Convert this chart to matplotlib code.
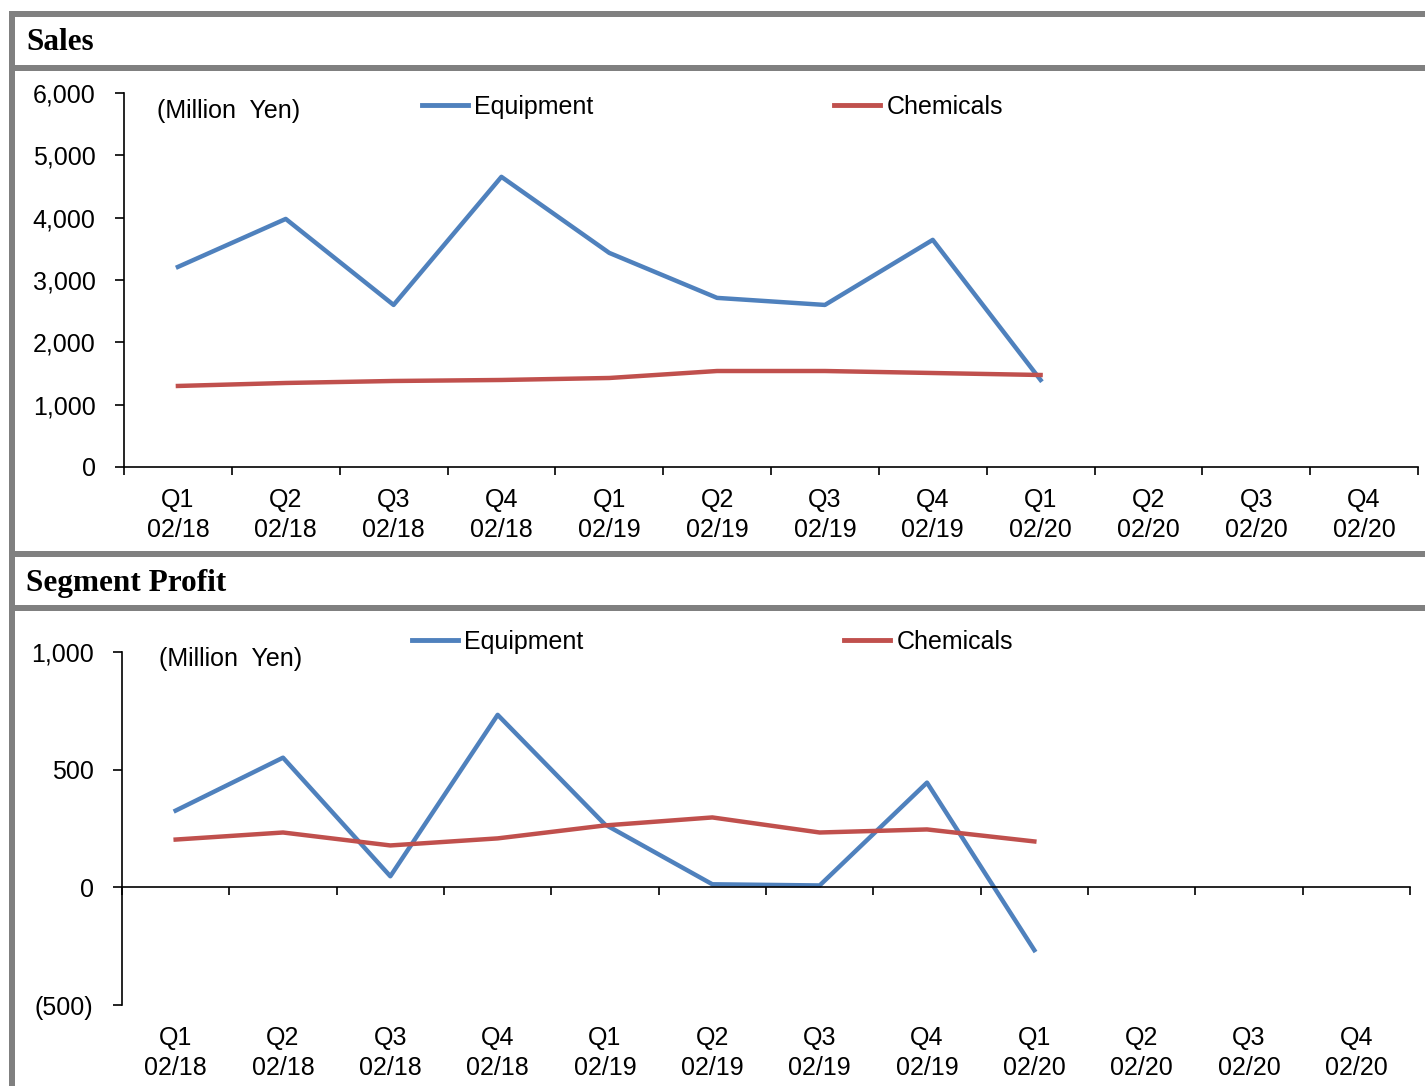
import matplotlib.pyplot as plt
from matplotlib.patches import Rectangle
from matplotlib.lines import Line2D

# Quarterly results, fiscal years 02/18 - 02/20
quarters = ["Q1\n02/18", "Q2\n02/18", "Q3\n02/18", "Q4\n02/18",
            "Q1\n02/19", "Q2\n02/19", "Q3\n02/19", "Q4\n02/19",
            "Q1\n02/20", "Q2\n02/20", "Q3\n02/20", "Q4\n02/20"]

sales_equipment = [3210, 3980, 2600, 4655, 3435, 2713, 2600, 3644, 1396]
sales_chemicals = [1300, 1348, 1380, 1396, 1428, 1540, 1540, 1508, 1476]

profit_equipment = [326, 551, 47, 733, 267, 13, 8, 445, -267]
profit_chemicals = [203, 233, 178, 208, 263, 297, 233, 246, 195]

sales_ticks = [0, 1000, 2000, 3000, 4000, 5000, 6000]
sales_ticklabels = ["0", "1,000", "2,000", "3,000", "4,000", "5,000", "6,000"]
profit_ticks = [-500, 0, 500, 1000]
profit_ticklabels = ["(500)", "0", "500", "1,000"]

BLUE = "#4F81BD"
RED = "#C0504D"
GRAY = "#808080"
FS = 18

plt.rcParams["font.family"] = ["Liberation Sans", "DejaVu Sans"]

W, H = 1425, 1086
fig = plt.figure(figsize=(W / 100, H / 100), dpi=100)


def px(x0, y0, x1, y1):
    # pixel box (top-left origin) -> figure fraction rect
    return [x0 / W, 1 - y1 / H, (x1 - x0) / W, (y1 - y0) / H]


# gray frame bands
for (x0, y0, x1, y1) in [(9, 11, W, 17), (9, 65, W, 71), (9, 551, W, 557),
                         (9, 605, W, 611), (9, 11, 15, H)]:
    fig.patches.append(Rectangle((x0 / W, 1 - y1 / H), (x1 - x0) / W, (y1 - y0) / H,
                                 transform=fig.transFigure, color=GRAY, lw=0, zorder=0))

fig.text(26 / W, 1 - 43 / H, "Sales", fontsize=22.5, fontweight="bold",
         family="Liberation Serif", va="center", ha="left")
fig.text(26 / W, 1 - 584 / H, "Segment Profit", fontsize=22.5, fontweight="bold",
         family="Liberation Serif", va="center", ha="left")

n = len(quarters)
centers = [i + 0.5 for i in range(n)]
bounds = list(range(n + 1))


def style_axes(ax):
    for s in ["top", "right"]:
        ax.spines[s].set_visible(False)
    for s in ["left", "bottom"]:
        ax.spines[s].set_linewidth(1.2)
    ax.set_xlim(0, n)
    ax.set_xticks(bounds)
    ax.set_xticklabels([])
    ax.tick_params(axis="x", which="major", direction="out", length=6, width=1.2)
    ax.tick_params(axis="y", direction="out", length=6.5, width=1.2, labelsize=FS, pad=14)
    ax.set_facecolor("none")


def legend_entry(x, y, color, label):
    h = Line2D([], [], color=color, lw=3.5)
    leg = fig.legend([h], [label], loc="center left", bbox_to_anchor=(x / W, 1 - y / H),
                     frameon=False, fontsize=FS, handlelength=1.85, handletextpad=0.25,
                     borderpad=0, borderaxespad=0)
    return leg


# Sales
ax1 = fig.add_axes(px(124, 93, 1418, 467))
style_axes(ax1)
ax1.plot(centers[:len(sales_equipment)], sales_equipment, color=BLUE, lw=3.2,
         solid_joinstyle="round")
ax1.plot(centers[:len(sales_chemicals)], sales_chemicals, color=RED, lw=3.2,
         solid_joinstyle="round")
ax1.set_ylim(0, 6000)
ax1.set_yticks(sales_ticks)
ax1.set_yticklabels(sales_ticklabels)
ax1.set_xticks(centers, minor=True)
ax1.set_xticklabels(quarters, minor=True, fontsize=FS, linespacing=1.3)
ax1.tick_params(axis="x", which="minor", length=0, pad=15)
ax1.text(157 / W, 1 - 111 / H, "(Million  Yen)", transform=fig.transFigure,
         fontsize=FS, va="center", ha="left")
legend_entry(422, 107, BLUE, "Equipment")
legend_entry(834, 107, RED, "Chemicals")

# Segment profit
ax2 = fig.add_axes(px(122, 652, 1410, 1005))
style_axes(ax2)
ax2.spines["bottom"].set_position(("data", 0))
ax2.plot(centers[:len(profit_equipment)], profit_equipment, color=BLUE, lw=3.2,
         solid_joinstyle="round")
ax2.plot(centers[:len(profit_chemicals)], profit_chemicals, color=RED, lw=3.2,
         solid_joinstyle="round")
ax2.set_ylim(-500, 1000)
ax2.set_yticks(profit_ticks)
ax2.set_yticklabels(profit_ticklabels)
sec = ax2.secondary_xaxis("bottom")
sec.spines["bottom"].set_visible(False)
sec.set_xticks(centers)
sec.set_xticklabels(quarters, fontsize=FS, linespacing=1.3)
sec.tick_params(length=0, pad=15)
ax2.text(159 / W, 1 - 659 / H, "(Million  Yen)", transform=fig.transFigure,
         fontsize=FS, va="center", ha="left")
legend_entry(412, 642, BLUE, "Equipment")
legend_entry(844, 642, RED, "Chemicals")

fig.savefig("out.png", dpi=100, facecolor="white")
